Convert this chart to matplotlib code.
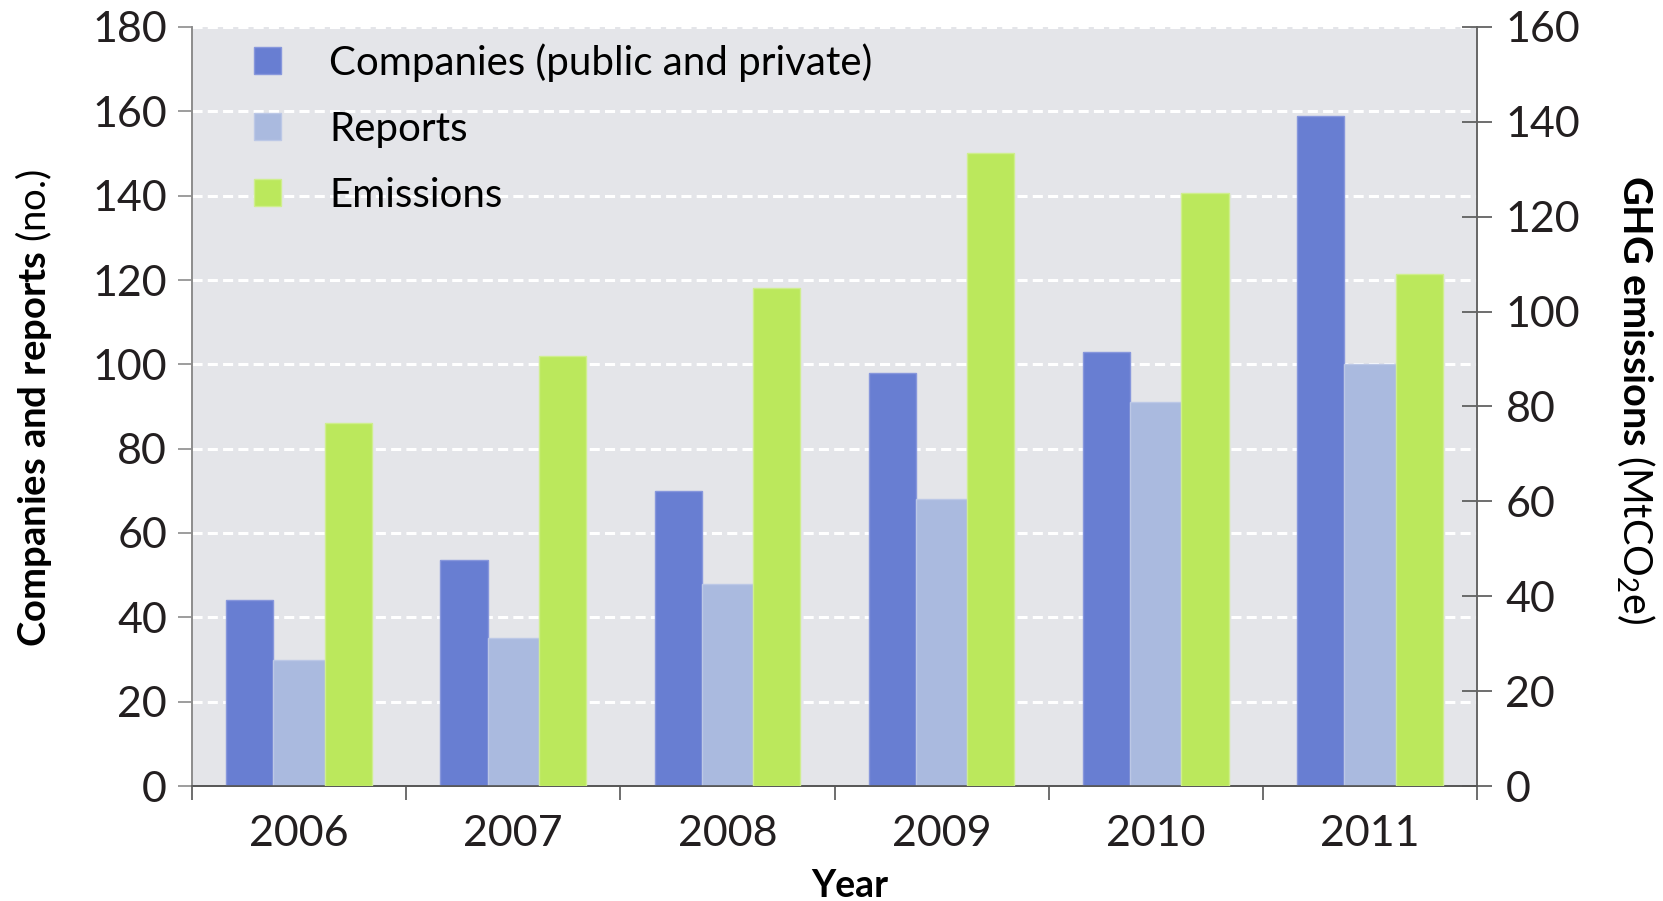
import numpy as np
import matplotlib
matplotlib.use('Agg')
import matplotlib.pyplot as plt

years = ['2006', '2007', '2008', '2009', '2010', '2011']
companies = [44, 53.5, 70, 98, 103, 159]
reports = [30, 35, 48, 68, 91, 100]
emissions = [76.6, 90.7, 105, 133.4, 125.1, 107.9]

C_COMP = '#687ED2'
C_REP = '#AABADF'
C_EMI = '#BBE85C'
BG = '#E4E5E9'
SPINE = '#8C8C8C'
TXT = '#231F20'

plt.rcParams['font.family'] = ['Lato', 'DejaVu Sans']
plt.rcParams['mathtext.fontset'] = 'custom'
plt.rcParams['mathtext.rm'] = 'Lato'
plt.rcParams['mathtext.it'] = 'Lato:italic'
plt.rcParams['mathtext.bf'] = 'Lato:bold'

fig = plt.figure(figsize=(16.63, 9.01), dpi=100)
ax = fig.add_axes([192 / 1663, 1 - 786 / 901, (1477 - 192) / 1663, (786 - 27) / 901])
ax2 = ax.twinx()

x = np.arange(len(years))
w = [0.22, 0.24, 0.22]
left = -0.34
ax.bar(x + left + w[0] / 2, companies, w[0], color=C_COMP, edgecolor='#8797DC', linewidth=1,
       label='Companies (public and private)', zorder=3)
ax.bar(x + left + w[0] + w[1] / 2, reports, w[1], color=C_REP, edgecolor='#BCC8E6', linewidth=1,
       label='Reports', zorder=3)
ax2.bar(x + left + w[0] + w[1] + w[2] / 2, emissions, w[2], color=C_EMI, edgecolor='#CFEE8E',
        linewidth=1, label='Emissions', zorder=3)

ax.set_facecolor(BG)
ax.set_xlim(-0.5, len(years) - 0.5)
ax.set_ylim(0, 180)
ax2.set_ylim(0, 160)
ax.set_yticks(np.arange(0, 181, 20))
ax2.set_yticks(np.arange(0, 161, 20))
ax.set_axisbelow(True)
ax.yaxis.grid(True, color='white', linewidth=2.2, linestyle=(0, (3.3, 1.7)))

# x ticks at category boundaries, labels at centres
ax.set_xticks(np.arange(-0.5, len(years), 1.0))
ax.set_xticklabels([])
ax.set_xticks(x, minor=True)
ax.set_xticklabels(years, minor=True)
ax.tick_params(axis='x', which='major', direction='out', length=10, width=1.2, color='#555555')
ax.tick_params(axis='x', which='minor', length=0, pad=21, labelsize=31, labelcolor=TXT)
ax.tick_params(axis='y', direction='out', length=10, width=1.2, color=SPINE, pad=8,
               labelsize=31, labelcolor=TXT)
ax2.tick_params(axis='y', direction='inout', length=21, width=1.2, color='#555555', pad=10,
                labelsize=31, labelcolor=TXT)

for a in (ax, ax2):
    a.spines['top'].set_visible(False)
    a.spines['left'].set_color(SPINE)
    a.spines['right'].set_color('#666666')
    a.spines['bottom'].set_color('#555555')
    for s in a.spines.values():
        s.set_linewidth(1.2)

fig.text(34 / 1663, 1 - 408 / 901, r'$\mathbf{Companies\ and\ reports}$ (no.)', rotation=90,
         ha='center', va='center', fontsize=27.5, color='black')
fig.text(1635 / 1663, 1 - 400 / 901, r'$\mathbf{GHG\ emissions}$ (MtCO$_2$e)', rotation=270,
         ha='center', va='center', fontsize=28.5, color='black')
fig.text(850 / 1663, 1 - 886 / 901, 'Year', ha='center', va='center', fontsize=27,
         fontweight='bold', color='black')

h1, l1 = ax.get_legend_handles_labels()
h2, l2 = ax2.get_legend_handles_labels()
ax2.legend(h1 + h2, l1 + l2, loc='upper left', bbox_to_anchor=(0.036, 1.0), frameon=False,
           fontsize=29, handlelength=0.66, handleheight=0.66, handletextpad=1.2,
           labelspacing=0.72, borderaxespad=0.0)

fig.savefig('out.png', dpi=100)
